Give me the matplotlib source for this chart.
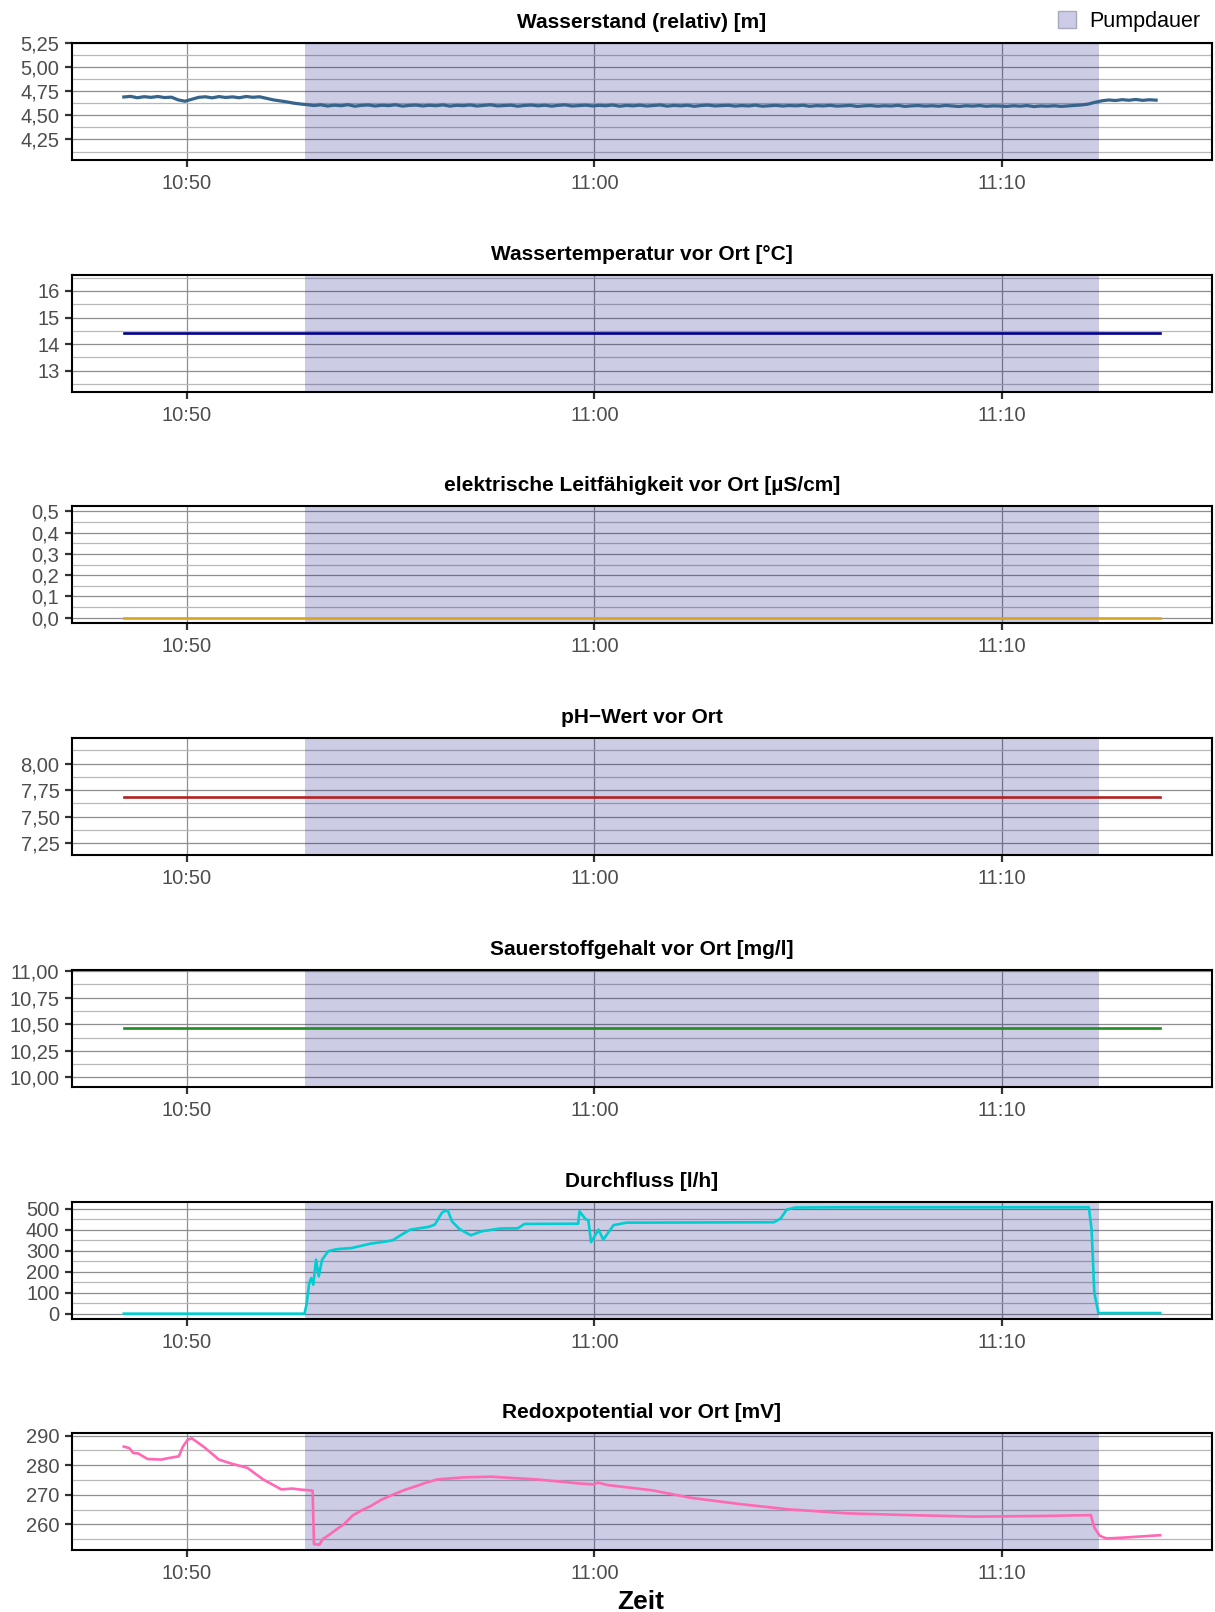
import numpy as np
import pandas as pd
import matplotlib
matplotlib.use("Agg")
import matplotlib.pyplot as plt
import matplotlib.dates as mdates
from matplotlib.patches import Patch
from matplotlib.ticker import MultipleLocator, FuncFormatter

plt.rcParams['font.family'] = ['Liberation Sans', 'DejaVu Sans']

DATUM = "2021-06-15"

# Messzeitraum und Pumpdauer
mess_start = "10:48:27"
mess_ende = "11:13:53"
pump_start = "10:52:54"
pump_ende = "11:12:23"

# Wasserstand (relativ) [m], Messintervall 10 s ab mess_start
wasserstand = [
    4.692, 4.698, 4.684, 4.695, 4.688, 4.697, 4.686, 4.690, 4.662, 4.648,
    4.668, 4.688, 4.694, 4.683, 4.696, 4.687, 4.693, 4.684, 4.697, 4.689,
    4.694, 4.678, 4.662, 4.652, 4.641, 4.628, 4.619, 4.612, 4.603, 4.611,
    4.598, 4.607, 4.601, 4.612, 4.596, 4.605, 4.609, 4.598, 4.606, 4.602,
    4.611, 4.597, 4.604, 4.608, 4.599, 4.606, 4.601, 4.610, 4.597, 4.605,
    4.602, 4.609, 4.598, 4.604, 4.611, 4.599, 4.603, 4.607, 4.596, 4.604,
    4.608, 4.600, 4.606, 4.597, 4.605, 4.610, 4.598, 4.603, 4.607, 4.599,
    4.605, 4.601, 4.609, 4.596, 4.604, 4.600, 4.607, 4.598, 4.603, 4.609,
    4.597, 4.604, 4.600, 4.606, 4.595, 4.603, 4.608, 4.599, 4.602, 4.606,
    4.597, 4.603, 4.599, 4.607, 4.596, 4.601, 4.605, 4.598, 4.603, 4.600,
    4.606, 4.595, 4.602, 4.599, 4.605, 4.597, 4.601, 4.604, 4.594, 4.600,
    4.603, 4.596, 4.601, 4.598, 4.605, 4.594, 4.600, 4.603, 4.597, 4.601,
    4.596, 4.604, 4.599, 4.593, 4.601, 4.597, 4.603, 4.595, 4.600, 4.598,
    4.594, 4.601, 4.596, 4.603, 4.592, 4.599, 4.596, 4.601, 4.594, 4.599,
    4.605, 4.609, 4.618, 4.637, 4.652, 4.661, 4.655, 4.664, 4.658, 4.666,
    4.657, 4.663, 4.659,
]

# konstante Vor-Ort-Werte
temperatur = 14.4
leitfaehigkeit = 0.0
ph_wert = 7.69
sauerstoff = 10.46

durchfluss_zeit = [
    "10:48:27", "10:52:53", "10:52:56", "10:53:00", "10:53:03", "10:53:06",
    "10:53:10", "10:53:14", "10:53:19", "10:53:28", "10:53:38", "10:53:44",
    "10:54:02", "10:54:30", "10:54:50", "10:55:03", "10:55:16", "10:55:29",
    "10:55:56", "10:56:05", "10:56:16", "10:56:24", "10:56:30", "10:56:41",
    "10:56:58", "10:57:14", "10:57:41", "10:58:07", "10:58:17", "10:59:36",
    "10:59:38", "10:59:47", "10:59:51", "10:59:55", "11:00:06", "11:00:13",
    "11:00:28", "11:00:47", "11:04:24", "11:04:34", "11:04:43", "11:04:56",
    "11:06:00", "11:12:08", "11:12:12", "11:12:16", "11:12:22", "11:13:53",
]
durchfluss = [
    0, 0, 43, 146, 170, 138,
    257, 178, 257, 297, 305, 308,
    312, 333, 342, 349, 376, 400,
    413, 424, 483, 492, 440, 403,
    373, 392, 405, 406, 427, 428,
    487, 449, 445, 340, 400, 352,
    421, 433, 435, 452, 495, 505,
    506, 506, 400, 100, 3, 3,
]

redox_zeit = [
    "10:48:27", "10:48:35", "10:48:41", "10:48:48", "10:49:02", "10:49:22",
    "10:49:35", "10:49:48", "10:49:54", "10:50:01", "10:50:07", "10:50:17",
    "10:50:27", "10:50:47", "10:51:06", "10:51:29", "10:51:52", "10:52:19",
    "10:52:35", "10:52:45", "10:53:05", "10:53:07", "10:53:15", "10:53:20",
    "10:53:31", "10:53:42", "10:53:51", "10:54:04", "10:54:17", "10:54:30",
    "10:54:46", "10:55:03", "10:55:20", "10:55:36", "10:55:52", "10:56:09",
    "10:56:48", "10:57:28", "10:58:34", "10:59:39", "10:59:59", "11:00:05",
    "11:00:19", "11:01:25", "11:02:21", "11:03:36", "11:04:44", "11:06:12",
    "11:07:46", "11:09:19", "11:10:53", "11:12:11", "11:12:16", "11:12:24",
    "11:12:34", "11:12:59", "11:13:53",
]
redox = [
    286.3, 285.8, 284.1, 284.0, 282.1, 281.9,
    282.5, 283.0, 286.3, 288.6, 289.1, 287.5,
    285.8, 281.9, 280.5, 279.1, 275.2, 271.8,
    272.1, 271.8, 271.4, 253.3, 253.1, 255.0,
    256.7, 258.6, 260.0, 263.0, 264.7, 266.1,
    268.3, 270.0, 271.6, 272.8, 274.1, 275.2,
    275.9, 276.1, 275.2, 273.8, 273.5, 274.1,
    273.3, 271.5, 269.0, 266.8, 265.1, 263.7,
    263.1, 262.6, 262.8, 263.1, 258.9, 256.1,
    255.2, 255.5, 256.3,
]

titel = [
    "Wasserstand (relativ) [m]",
    "Wassertemperatur vor Ort [°C]",
    "elektrische Leitfähigkeit vor Ort [µS/cm]",
    "pH\u2212Wert vor Ort",
    "Sauerstoffgehalt vor Ort [mg/l]",
    "Durchfluss [l/h]",
    "Redoxpotential vor Ort [mV]",
]


def zeit(liste):
    return pd.to_datetime([DATUM + " " + t for t in liste])


def erweitert(lo, hi, f=0.05):
    d = (hi - lo) * f
    return lo - d, hi + d


def komma(stellen):
    return FuncFormatter(lambda v, p: f"{v:.{stellen}f}".replace(".", ","))


t0, t1 = zeit([mess_start, mess_ende])
wasser_zeit = pd.date_range(t0, periods=len(wasserstand), freq="10s")
x_lim = erweitert(mdates.date2num(t0), mdates.date2num(t1))

reihen = [
    (wasser_zeit, wasserstand, "#36648B", 2.3),
    ([t0, t1], [temperatur] * 2, "#00008B", 1.9),
    ([t0, t1], [leitfaehigkeit] * 2, "#DAA520", 1.9),
    ([t0, t1], [ph_wert] * 2, "#B22222", 1.9),
    ([t0, t1], [sauerstoff] * 2, "#228B22", 1.9),
    (zeit(durchfluss_zeit), durchfluss, "#00CED1", 1.9),
    (zeit(redox_zeit), redox, "#FF69B4", 1.9),
]

y_lims = [
    erweitert(min(wasserstand) - 0.5, max(wasserstand) + 0.5),
    erweitert(temperatur - 2, temperatur + 2),
    erweitert(leitfaehigkeit, leitfaehigkeit + 0.5),
    erweitert(ph_wert - 0.5, ph_wert + 0.5),
    erweitert(sauerstoff - 0.5, sauerstoff + 0.5),
    erweitert(min(durchfluss), max(durchfluss)),
    erweitert(min(redox), max(redox)),
]
# (major, minor, Nachkommastellen)
y_ticks = [(0.25, 0.125, 2), (1, 0.5, 0), (0.1, 0.05, 1), (0.25, 0.125, 2),
           (0.25, 0.125, 2), (100, 50, 0), (10, 5, 0)]

W, H = 1215, 1612
fig = plt.figure(figsize=(W / 100, H / 100), dpi=100)

oben = [43, 275, 506, 738, 970, 1202, 1433]
hoehe = 117
links, breite = 72, 1140

for i, (x, y, farbe, lw) in enumerate(reihen):
    ax = fig.add_axes([links / W, 1 - (oben[i] + hoehe) / H, breite / W, hoehe / H])
    ax.set_axisbelow(True)
    ax.axvspan(zeit([pump_start])[0], zeit([pump_ende])[0],
               color="#000080", alpha=0.2, lw=0, zorder=1)
    ax.plot(x, y, color=farbe, lw=lw, zorder=3)

    ax.set_xlim(x_lim)
    ax.set_ylim(y_lims[i])
    ax.xaxis.set_major_locator(mdates.MinuteLocator(byminute=[0, 10, 20, 30, 40, 50]))
    ax.xaxis.set_major_formatter(mdates.DateFormatter("%H:%M"))
    major, minor, stellen = y_ticks[i]
    ax.yaxis.set_major_locator(MultipleLocator(major))
    ax.yaxis.set_minor_locator(MultipleLocator(minor))
    ax.yaxis.set_major_formatter(komma(stellen))

    ax.grid(which="major", color="#8f8f8f", lw=0.9)
    ax.grid(which="minor", axis="y", color="#b8b8b8", lw=0.9)
    ax.tick_params(which="major", length=5, width=1.6, color="#333333",
                   labelsize=14.5, labelcolor="#4D4D4D", pad=4)
    ax.tick_params(which="minor", length=0)
    ax.tick_params(axis="x", pad=5)
    for s in ax.spines.values():
        s.set_linewidth(1.5)
        s.set_color("black")
        s.set_zorder(4)

    ax.set_title(titel[i], fontsize=15, fontweight="bold", pad=10.5)

fig.legend(handles=[Patch(facecolor="#CCCCE6", edgecolor="#A9A9BE", lw=1,
                          label="Pumpdauer")],
           loc="center right", bbox_to_anchor=(1200 / W, 1 - 21.5 / H),
           frameon=False, fontsize=15.5, borderpad=0, borderaxespad=0,
           handlelength=0.85, handleheight=0.85, handletextpad=0.6)

fig.text(641 / W, 1 - 1609 / H, "Zeit", ha="center", va="baseline",
         fontsize=19, fontweight="bold")

fig.savefig("out.png", dpi=100)
